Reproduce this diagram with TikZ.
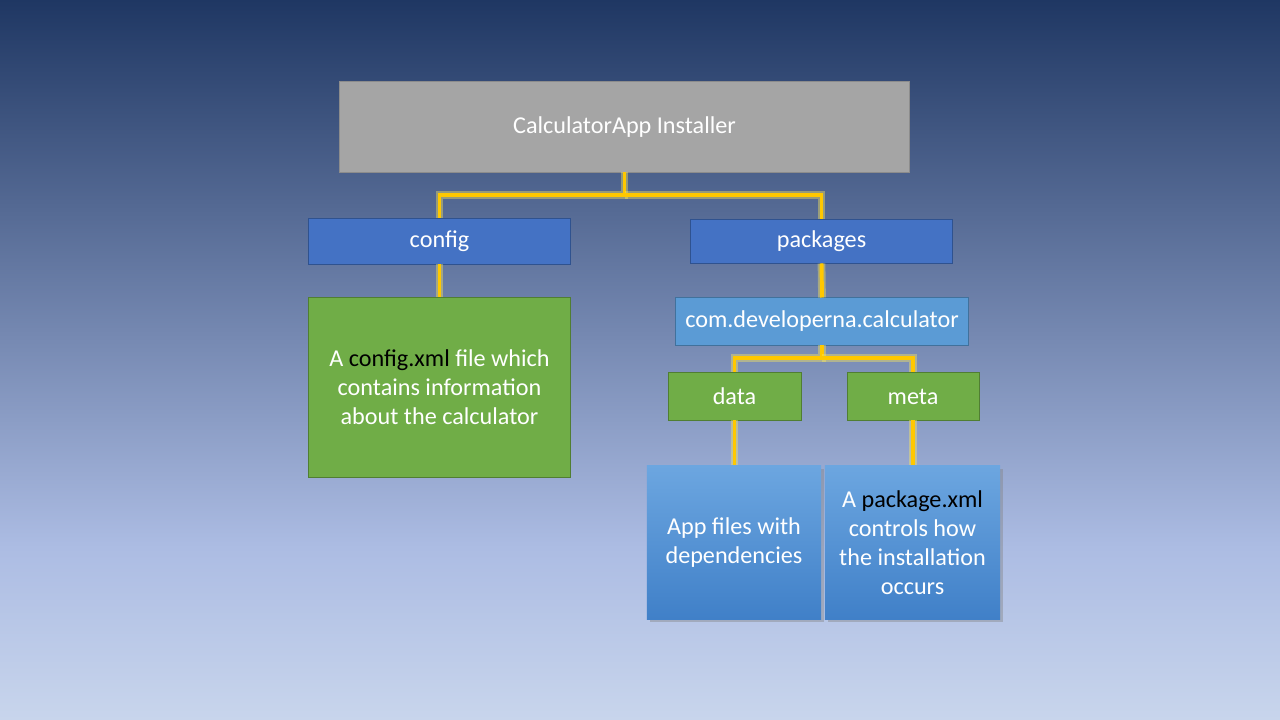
\documentclass[tikz,border=0pt]{standalone}
\usepackage{fontspec}
\setmainfont{Carlito}
\usetikzlibrary{shadows}

\definecolor{bgtop}{RGB}{31,55,99}
\definecolor{bgmid}{RGB}{172,188,227}
\definecolor{bgbot}{RGB}{200,213,236}
\definecolor{gryfill}{RGB}{165,165,165}
\definecolor{gryline}{RGB}{140,140,140}
\definecolor{bluefill}{RGB}{68,114,196}
\definecolor{blueline}{RGB}{47,82,143}
\definecolor{lbluefill}{RGB}{91,155,213}
\definecolor{lblueline}{RGB}{65,113,156}
\definecolor{grnfill}{RGB}{112,173,71}
\definecolor{grnline}{RGB}{80,126,50}
\definecolor{gradtop}{RGB}{108,166,224}
\definecolor{gradbot}{RGB}{64,128,200}
\definecolor{linkc}{RGB}{255,200,0}
\definecolor{glowc}{RGB}{255,235,90}

\pgfdeclareverticalshading{bgshade}{100bp}{color(0bp)=(bgbot); color(25bp)=(bgbot);
  color(37bp)=(bgmid); color(75bp)=(bgtop); color(100bp)=(bgtop)}

\tikzset{
  box/.style={draw, rectangle, text=white, align=center, inner sep=0pt,
    font=\fontsize{17.2}{20.6}\selectfont, line width=0.7pt},
  graybox/.style={box, fill=gryfill, draw=gryline},
  bluebox/.style={box, fill=bluefill, draw=blueline},
  lbluebox/.style={box, fill=lbluefill, draw=lblueline},
  grnbox/.style={box, fill=grnfill, draw=grnline},
  gradbox/.style={box, draw=none, top color=gradtop, bottom color=gradbot,
    drop shadow={shadow xshift=2pt, shadow yshift=-2pt, opacity=0.4}},
  link/.style={draw=linkc, line width=2.8pt,
    preaction={draw=glowc, line width=5.5pt, opacity=0.4}}
}
\newcommand{\xmlname}[1]{\textcolor{black}{#1}}

\begin{document}
\begin{tikzpicture}[x=0.025cm, y=0.025cm]

    \shade[shading=bgshade] (0, 0) rectangle (1280, 720);
    \useasboundingbox (0, 0) rectangle (1280, 720);

    \node[graybox, minimum width=14.225cm, minimum height=2.25cm] (inst) at (624.5, 593) {CalculatorApp Installer};

    \node[bluebox, minimum width=6.525cm, minimum height=1.125cm] (cfg) at (439.5, 478.5) {config};
    \node[bluebox, minimum width=6.525cm, minimum height=1.075cm] (pkgs) at (821.5, 478.5) {packages};

    \node[grnbox, minimum width=6.525cm, minimum height=4.475cm] (cfgtxt) at (439.5, 332.5)
        {A \xmlname{config.xml} file which\\contains information\\about the calculator};

    \node[lbluebox, minimum width=7.3cm, minimum height=1.175cm] (calc) at (822, 398.5) {com.developerna.calculator};

    \node[grnbox, minimum width=3.325cm, minimum height=1.175cm] (data) at (734.5, 323.5) {data};
    \node[grnbox, minimum width=3.3cm, minimum height=1.175cm] (meta) at (913, 323.5) {meta};

    \node[gradbox, minimum width=4.35cm, minimum height=3.825cm] (appf) at (734, 177.5)
        {App files with\\dependencies};
    \node[gradbox, minimum width=4.375cm, minimum height=3.825cm] (pkgx) at (912.5, 177.5)
        {A \xmlname{package.xml}\\controls how\\the installation\\occurs};

    \coordinate (j1) at (624.5, 525);
    \coordinate (j2) at (822, 362);

    \path[link] (inst.south) -- (j1) -| (cfg.north);
    \path[link] (j1) -| (pkgs.north);
    \path[link] (cfg.south) -- (cfgtxt.north);
    \path[link] (pkgs.south) -- (calc.north);
    \path[link] (calc.south) -- (j2) -| (data.north);
    \path[link] (j2) -| (meta.north);
    \path[link] (data.south) -- (appf.north -| data.south);
    \path[link] (meta.south) -- (pkgx.north -| meta.south);

  \end{tikzpicture}
\end{document}
